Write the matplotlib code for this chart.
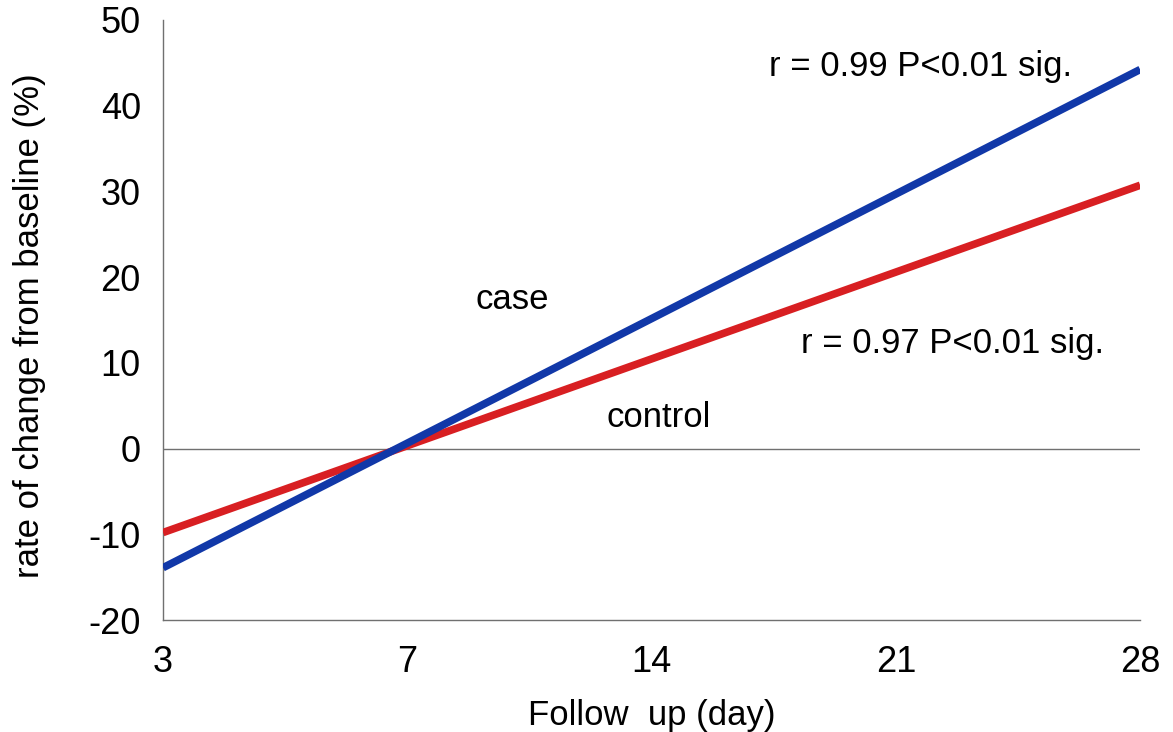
import numpy as np
import matplotlib.pyplot as plt

plt.rcParams['font.family'] = ['Liberation Sans', 'DejaVu Sans']
plt.rcParams['axes.unicode_minus'] = False

# follow-up days (evenly spaced categories on the x axis)
days = ['3', '7', '14', '21', '28']
# fitted line end points, read at first and last category
case_ends = [-13.9, 44.2]
control_ends = [-9.8, 30.7]

fig = plt.figure(figsize=(11.73, 7.32), dpi=100)
ax = fig.add_axes([0.139, 0.153, 0.833, 0.82])

pos = np.arange(len(days))
ends = [pos[0], pos[-1]]

ax.axhline(0, color='#707070', lw=1.0, zorder=1)
ax.plot(ends, control_ends, color='#d81f22', lw=5.5, solid_capstyle='butt', zorder=3)
ax.plot(ends, case_ends, color='#1138a8', lw=5.5, solid_capstyle='butt', zorder=4)

ax.text(1.43, 17.4, 'case', fontsize=25, ha='center', va='center')
ax.text(2.03, 3.6, 'control', fontsize=25, ha='center', va='center')
ax.text(3.1, 44.6, 'r = 0.99 P<0.01 sig.', fontsize=25, ha='center', va='center')
ax.text(3.23, 12.2, 'r = 0.97 P<0.01 sig.', fontsize=25, ha='center', va='center')

ax.set_xlim(0, 4)
ax.set_ylim(-20, 50)
ax.set_xticks(pos)
ax.set_xticklabels(days)
ax.set_yticks(np.arange(-20, 51, 10))
ax.tick_params(length=0, labelsize=26, pad=16)
ax.tick_params(axis='x', pad=18)

for s in ['top', 'right']:
    ax.spines[s].set_visible(False)
for s in ['left', 'bottom']:
    ax.spines[s].set_color('#707070')
    ax.spines[s].set_linewidth(1.0)

ax.set_xlabel('Follow  up (day)', fontsize=25, labelpad=14)
ax.set_ylabel('rate of change from baseline (%)', fontsize=25, labelpad=26)
ax.yaxis.set_label_coords(-0.12, 0.49)

fig.savefig('out.png', dpi=100)
